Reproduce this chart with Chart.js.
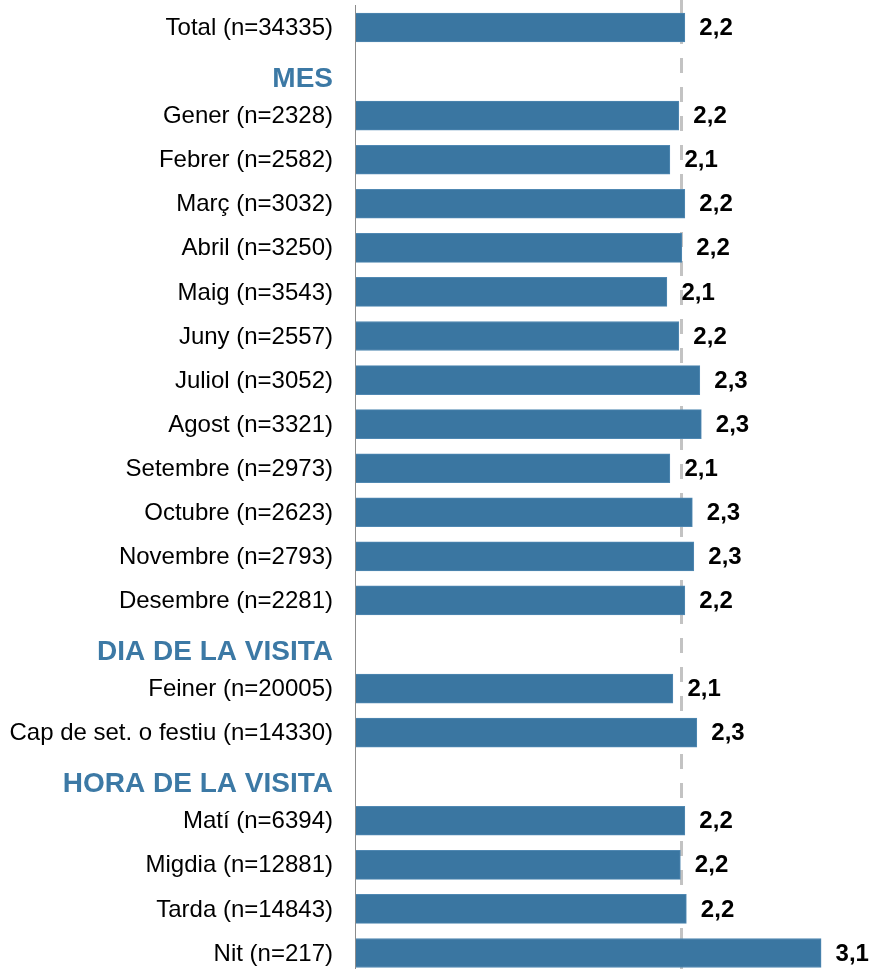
<!DOCTYPE html>
<html>
<head>
<meta charset="utf-8">
<script src="https://cdn.jsdelivr.net/npm/chart.js@4"></script>
<style>
  html, body { margin: 0; padding: 0; background: #fff; }
  #wrap { width: 872px; height: 969px; }
</style>
</head>
<body>
<div id="wrap"><canvas id="chart" width="872" height="969"></canvas></div>
<script>
// rows top to bottom; section headers carry no value
const categories = [
    'Total (n=34335)',
    'MES',
    'Gener (n=2328)',
    'Febrer (n=2582)',
    'Març (n=3032)',
    'Abril (n=3250)',
    'Maig (n=3543)',
    'Juny (n=2557)',
    'Juliol (n=3052)',
    'Agost (n=3321)',
    'Setembre (n=2973)',
    'Octubre (n=2623)',
    'Novembre (n=2793)',
    'Desembre (n=2281)',
    'DIA DE LA VISITA',
    'Feiner (n=20005)',
    'Cap de set. o festiu (n=14330)',
    'HORA DE LA VISITA',
    'Matí (n=6394)',
    'Migdia (n=12881)',
    'Tarda (n=14843)',
    'Nit (n=217)'
];
const values = [
    2.20,
    null,
    2.16, 2.10, 2.20, 2.18, 2.08, 2.16, 2.30, 2.31, 2.10, 2.25, 2.26, 2.20,
    null,
    2.12, 2.28,
    null,
    2.20, 2.17, 2.21, 3.11
];
const sectionHeaders = ['MES', 'DIA DE LA VISITA', 'HORA DE LA VISITA'];
const referenceValue = 2.175;   // mitjana global (línia discontínua)

const BAR_BLUE = '#3A76A1';
const FONT = '"Liberation Sans", Arial, sans-serif';

function fmt(v) {
    return (Math.round(v * 10) / 10).toFixed(1).replace('.', ',');
}

const decorations = {
    id: 'decorations',
    beforeDatasetsDraw(chart) {
        const ctx = chart.ctx;
        const x = chart.scales.x;
        const h = chart.height;
        ctx.save();
        // reference line behind the bars
        const rx = Math.round(x.getPixelForValue(referenceValue)) + 0.5;
        ctx.strokeStyle = '#c3c3c3';
        ctx.lineWidth = 3;
        ctx.setLineDash([15, 14]);
        ctx.beginPath();
        ctx.moveTo(rx, 0);
        ctx.lineTo(rx, h);
        ctx.stroke();
        ctx.restore();
    },
    afterDatasetsDraw(chart) {
        const ctx = chart.ctx;
        const x = chart.scales.x;
        const y = chart.scales.y;
        ctx.save();

        // vertical axis line
        const ax = Math.round(x.getPixelForValue(0)) - 0.5;
        ctx.strokeStyle = '#8c8c8c';
        ctx.lineWidth = 1;
        ctx.beginPath();
        ctx.moveTo(ax, 5);
        ctx.lineTo(ax, chart.height);
        ctx.stroke();

        // category labels and section headers
        ctx.textAlign = 'right';
        ctx.textBaseline = 'middle';
        categories.forEach((label, i) => {
            const py = y.getPixelForValue(i);
            if (sectionHeaders.includes(label)) {
                ctx.font = 'bold 28px ' + FONT;
                ctx.fillStyle = '#3C79A5';
                ctx.fillText(label, 333, py + 7.5);
            } else {
                ctx.font = '24px ' + FONT;
                ctx.fillStyle = '#000';
                ctx.fillText(label, 333, py + 1);
            }
        });

        // value labels
        ctx.textAlign = 'left';
        ctx.font = 'bold 24px ' + FONT;
        ctx.fillStyle = '#000';
        const meta = chart.getDatasetMeta(0);
        meta.data.forEach((bar, i) => {
            if (values[i] == null) return;
            ctx.fillText(fmt(values[i]), bar.x + 14.5, bar.y + 1);
        });
        ctx.restore();
    }
};

new Chart(document.getElementById('chart'), {
    type: 'bar',
    data: {
        labels: categories,
        datasets: [{
            data: values,
            backgroundColor: BAR_BLUE,
            borderColor: '#5088b2',
            borderWidth: 1,
            borderSkipped: 'left',
            barThickness: 29,
            clip: false
        }]
    },
    options: {
        indexAxis: 'y',
        responsive: false,
        animation: false,
        layout: {
            padding: { left: 355.5, right: 0, top: 27.5, bottom: 16 }
        },
        plugins: {
            legend: { display: false },
            tooltip: { enabled: false }
        },
        scales: {
            x: {
                display: false,
                min: 0,
                max: 3.45
            },
            y: {
                display: false,
                offset: false
            }
        }
    },
    plugins: [decorations]
});
</script>
</body>
</html>
